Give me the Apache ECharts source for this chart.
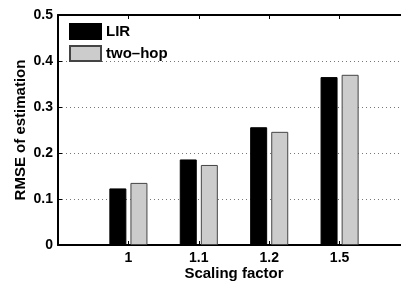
<!DOCTYPE html>
<html>
<head>
    <meta charset="utf-8">
    <title>ECharts</title>
    <script src="https://cdn.jsdelivr.net/npm/echarts@6/dist/echarts.min.js"></script>
    <style type="text/css">
    html, body { margin: 0; padding: 0; background: #fff; }
    </style>
</head>
<body>
    <div id="main" style="width: 401px;height:282px;"></div>
    <script type="text/javascript">
        // x轴: 两端留空位置, 中间是缩放因子
        var categories = ['', '1', '1.1', '1.2', '1.5', ''];
        var lirData = ['-', 0.123, 0.186, 0.256, 0.365, '-'];
        var twoHopData = ['-', 0.135, 0.174, 0.246, 0.370, '-'];
        var yTicks = [0, 0.1, 0.2, 0.3, 0.4, 0.5];

        var font = 'Liberation Sans';
        var myChart = echarts.init(document.getElementById('main'));
        var option = {
            animation: false,
            grid: { left: 58, top: 15, width: 352, height: 230, outerBoundsMode: 'none', containLabel: false },
            legend: {
                orient: 'vertical',
                left: 69, top: 23,
                padding: 0,
                itemWidth: 31, itemHeight: 15, itemGap: 5,
                icon: 'rect',
                textStyle: { fontFamily: font, fontWeight: 'bold', fontSize: 15, color: '#000' },
                data: ['LIR', 'two–hop']
            },
            xAxis: [{
                type: 'category',
                data: categories,
                boundaryGap: false,
                name: 'Scaling factor',
                nameLocation: 'middle',
                nameGap: 21,
                nameMoveOverlap: false,
                nameTextStyle: { fontFamily: font, fontWeight: 'bold', fontSize: 15, color: '#000' },
                axisLine: { lineStyle: { color: '#000', width: 2 } },
                axisTick: { inside: true, length: 4, lineStyle: { color: '#000' } },
                axisLabel: { margin: 6, fontFamily: font, fontWeight: 'bold', fontSize: 14, color: '#000' },
                splitLine: { show: false }
            }, {
                type: 'category',
                data: categories,
                boundaryGap: false,
                position: 'top',
                axisLine: { lineStyle: { color: '#000', width: 2 } },
                axisTick: { inside: true, length: 4, lineStyle: { color: '#000' } },
                axisLabel: { show: false },
                splitLine: { show: false }
            }],
            yAxis: {
                type: 'value',
                min: yTicks[0],
                max: yTicks[yTicks.length - 1],
                interval: 0.1,
                name: 'RMSE of estimation',
                nameLocation: 'middle',
                nameGap: 30,
                nameMoveOverlap: false,
                nameTextStyle: { fontFamily: font, fontWeight: 'bold', fontSize: 15, color: '#000' },
                axisLine: { show: true, lineStyle: { color: '#000', width: 2 } },
                axisTick: { show: true, inside: true, length: 4, lineStyle: { color: '#000' } },
                axisLabel: { margin: 5, fontFamily: font, fontWeight: 'bold', fontSize: 14, color: '#000' },
                splitLine: { lineStyle: { color: '#777', width: 1, type: [1, 3] } }
            },
            series: [{
                name: 'LIR',
                type: 'bar',
                data: lirData,
                barWidth: 17,
                barGap: '24%',
                itemStyle: { color: '#000', borderColor: '#000', borderWidth: 1 }
            }, {
                name: 'two–hop',
                type: 'bar',
                data: twoHopData,
                barWidth: 17,
                itemStyle: { color: '#cccccc', borderColor: '#444', borderWidth: 1 }
            }]
        };
        myChart.setOption(option);
    </script>
</body>
</html>
